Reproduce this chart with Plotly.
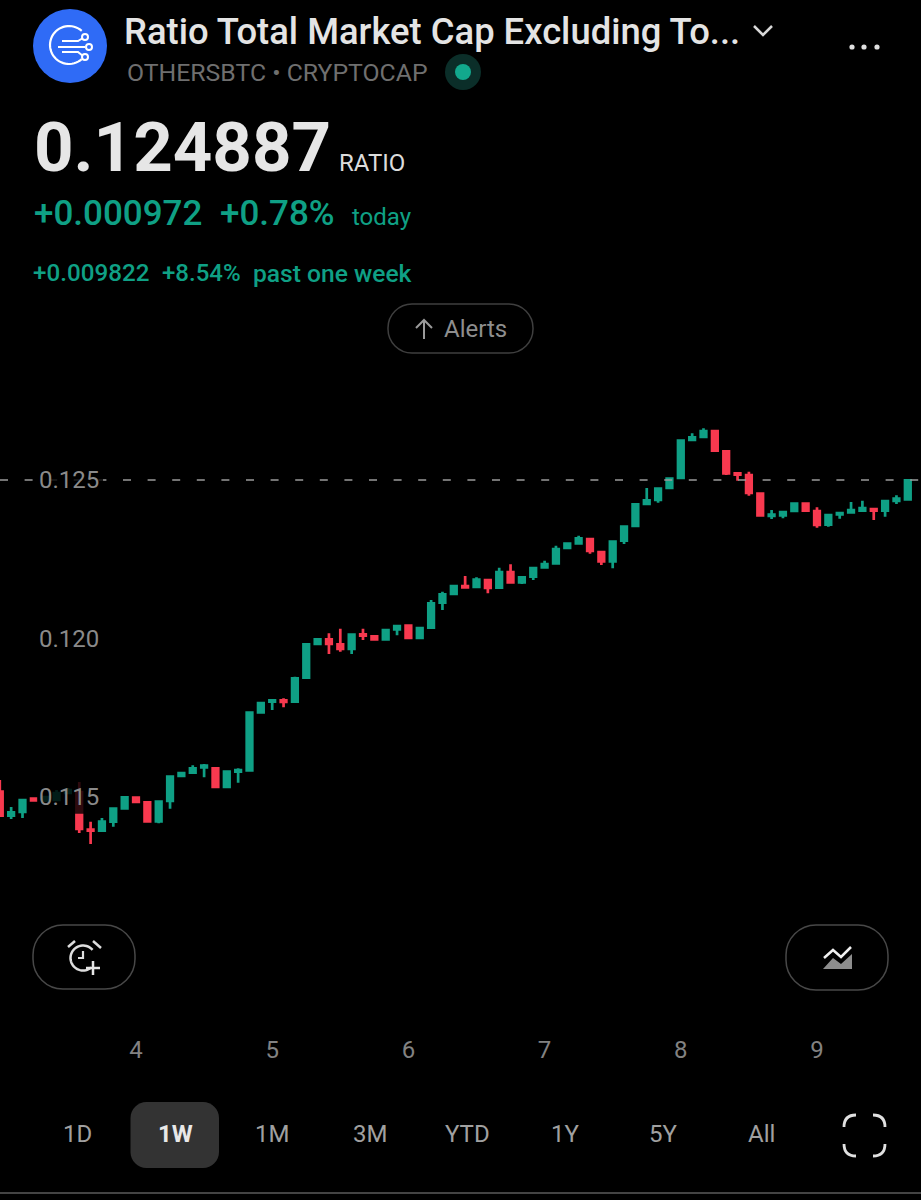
import math
import plotly.graph_objects as go

open_ = [.115167,.114410,.114527,.114953,.114889,.114905,.115126,.115158,.113975,.113937,
 .114221,.114643,.114978,.114833,.114233,.114874,.115662,.115766,.115937,.115905,
 .115315,.115798,.115842,.117672,.118006,.118050,.118006,.118763,.119826,.119975,
 .119817,.119669,.120132,.120069,.119975,.120290,.120404,.120016,.120341,.121129,
 .121404,.121656,.121625,.121845,.121603,.122098,.121773,.121949,.122246,.122372,
 .122855,.123003,.123139,.122729,.122435,.123085,.123549,.124243,.124369,.124748,
 .125063,.126262,.126356,.126546,.125905,.125211,.125158,.124568,.123864,.123886,
 .124022,.124252,.124022,.123590,.123918,.123981,.124032,.124085,.124032,.124338,
 .124391]
high = [.115536,.114684,.114921,.114962,.115031,.115221,.115284,.115473,.114221,.114337,
 .114637,.115000,.114984,.114842,.114861,.115650,.115770,.116000,.116041,.115915,
 .115807,.115905,.117669,.117971,.118082,.118113,.118795,.119826,.119984,.120164,
 .120309,.120129,.120309,.120079,.120278,.120404,.120435,.120341,.121214,.121476,
 .121666,.121972,.121931,.121855,.122233,.122341,.121940,.122233,.122454,.122927,
 .123035,.123243,.123148,.122738,.123076,.123536,.124243,.124748,.124735,.125050,
 .126249,.126473,.126631,.126555,.125915,.125221,.125262,.124577,.124054,.124000,
 .124262,.124262,.124139,.123905,.123968,.124306,.124347,.124095,.124347,.124517,
 .125000]
low = [.114369,.114306,.114337,.114883,.114842,.114874,.115095,.113864,.113517,.113927,
 .114063,.114631,.114833,.114218,.114170,.114631,.115650,.115757,.115621,.115306,
 .115306,.115451,.115833,.117663,.117744,.117830,.117997,.118754,.119801,.119511,
 .119584,.119511,.119953,.119965,.119965,.120101,.120006,.120006,.120331,.120899,
 .121394,.121584,.121615,.121426,.121593,.121763,.121719,.121845,.122237,.122363,
 .122845,.122994,.122675,.122319,.122214,.122981,.123539,.124233,.124284,.124738,
 .125054,.126221,.126347,.125915,.125158,.124978,.124505,.123877,.123770,.123792,
 .124013,.124022,.123495,.123527,.123779,.123959,.123991,.123738,.123842,.124243,
 .124382]
close = [.114410,.114517,.114905,.114889,.115000,.115126,.115221,.113990,.113937,.114221,
 .114631,.114990,.114842,.114233,.114852,.115640,.115757,.115905,.115987,.115315,
 .115798,.115852,.117659,.117965,.118050,.117997,.118744,.119817,.119975,.119826,
 .119669,.120120,.120088,.119975,.120268,.120394,.120016,.120331,.121110,.121394,
 .121656,.121615,.121855,.121593,.122098,.121773,.121931,.122224,.122350,.122823,
 .122991,.123161,.122760,.122435,.123060,.123527,.124233,.124360,.124726,.125041,
 .126240,.126347,.126546,.125924,.125211,.125167,.124590,.123886,.123905,.123991,
 .124252,.124032,.123580,.123896,.123959,.124054,.124117,.124032,.124338,.124410,
 .124991]
y_ticks = [0.115, 0.120, 0.125]
y_labels = ["0.115", "0.120", "0.125"]
x_ticks = [4, 5, 6, 7, 8, 9]
x_labels = ["4", "5", "6", "7", "8", "9"]
last_level = 0.125
ranges = ["1D", "1W", "1M", "3M", "YTD", "1Y", "5Y", "All"]

W, H = 921, 1200
GREEN, RED = "#0fa085", "#f8394f"
FONT = "Roboto"
days = [3 + i / 12 for i in range(len(open_))]
x_range = [3.0015, 3.0015 + W / 136.2]
y_range = [0.102287, 0.140142]


def px(x):
    return x / W


def py(y):
    return 1 - y / H


def pt(x, y):
    return f"{px(x):.5f},{py(y):.5f}"


def poly(points, closed=False):
    s = "M" + " L".join(pt(*p) for p in points)
    return s + (" Z" if closed else "")


def rrect(x0, y0, x1, y1, r):
    k = r * 0.45
    return (f"M{pt(x0 + r, y0)} L{pt(x1 - r, y0)} C{pt(x1 - k, y0)} {pt(x1, y0 + k)} {pt(x1, y0 + r)} "
            f"L{pt(x1, y1 - r)} C{pt(x1, y1 - k)} {pt(x1 - k, y1)} {pt(x1 - r, y1)} "
            f"L{pt(x0 + r, y1)} C{pt(x0 + k, y1)} {pt(x0, y1 - k)} {pt(x0, y1 - r)} "
            f"L{pt(x0, y0 + r)} C{pt(x0, y0 + k)} {pt(x0 + k, y0)} {pt(x0 + r, y0)} Z")


shapes = []


def path(d, color="#dddddd", width=2.5, fill=None):
    shapes.append(dict(type="path", xref="paper", yref="paper", path=d, layer="above",
                       line=dict(color=color, width=width), fillcolor=fill or "rgba(0,0,0,0)"))


def circle(cx, cy, r, fill=None, color=None, width=0):
    shapes.append(dict(type="circle", xref="paper", yref="paper", layer="above",
                       x0=px(cx - r), x1=px(cx + r), y0=py(cy + r), y1=py(cy - r),
                       fillcolor=fill or "rgba(0,0,0,0)",
                       line=dict(color=color or "rgba(0,0,0,0)", width=width)))


def arc(cx, cy, r, a0, a1, n=40):
    return [(cx + r * math.cos(math.radians(a0 + (a1 - a0) * i / n)),
             cy + r * math.sin(math.radians(a0 + (a1 - a0) * i / n))) for i in range(n + 1)]


# logo
circle(70, 46, 37, fill="#2f6bf6")
path(poly(arc(69, 45, 19, -48, -312)), "#ffffff", 2.2)
path(poly([(62, 41), (78, 41), (83, 38)]), "#ffffff", 2)
path(poly([(58, 47), (85, 47)]), "#ffffff", 2)
path(poly([(62, 52), (78, 52), (83, 56)]), "#ffffff", 2)
circle(85, 37, 3, fill="#2f6bf6", color="#ffffff", width=2)
circle(89, 47, 3, fill="#2f6bf6", color="#ffffff", width=2)
circle(85, 57, 3, fill="#2f6bf6", color="#ffffff", width=2)
# header bits
path(poly([(754, 26), (763, 35), (772, 26)]), "#d8d8d8", 2.5)
for cx in (852, 864, 877):
    circle(cx, 47, 2.6, fill="#e0e0e0")
circle(463, 72, 18, fill="#0b2e29")
circle(463, 72, 8, fill="#12a88d")
# alerts pill
path(rrect(388, 304, 533, 353, 24), "#3f3f3f", 1.5)
path(poly([(424, 339), (424, 320)]), "#9a9a9a", 2)
path(poly([(416, 328), (424, 320), (432, 328)]), "#9a9a9a", 2)
# lower buttons
path(rrect(33, 925, 135, 989, 30), "#484848", 1.5)
path(rrect(786, 925, 888, 990, 30), "#484848", 1.5)
path(poly(arc(83, 958, 12.5, 50, 320)), "#dddddd", 2.5)
path(poly([(68, 947), (75, 941)]), "#dddddd", 2.5)
path(poly([(93, 941), (101, 948)]), "#dddddd", 2.5)
path(poly([(83, 951), (83, 958), (78, 958)]), "#dddddd", 2.2)
path(poly([(93, 961), (93, 975)]), "#e6e6e6", 2.5)
path(poly([(86, 968), (100, 968)]), "#e6e6e6", 2.5)
path(poly([(823, 969), (833, 958), (841, 964), (852, 954), (852, 969)], True), "rgba(0,0,0,0)", 0, "#8d8d8d")
path(poly([(824, 958), (833, 950), (841, 957), (851, 947)]), "#f0f0f0", 2.5)
# range selector
path(rrect(130.5, 1102, 219, 1168, 16), "rgba(0,0,0,0)", 0, "#333333")
for a, b, c in [((844, 1127), (844, 1115), (856, 1115)), ((873, 1115), (885, 1115), (885, 1127)),
                ((844, 1144), (844, 1156), (856, 1156)), ((873, 1156), (885, 1156), (885, 1144))]:
    path(f"M{pt(*a)} Q{pt(*b)} {pt(*c)}", "#e0e0e0", 2.8)
path(poly([(0, 1193), (921, 1193)]), "#444444", 2)

notes = []


def text(x, y, s, size, color, weight=400, anchor="left"):
    notes.append(dict(xref="paper", yref="paper", x=px(x), y=py(y), text=s, showarrow=False,
                      xanchor=anchor, yanchor="middle", align=anchor,
                      font=dict(family=FONT, size=size, color=color, weight=weight)))


text(122, 31, "Ratio Total Market Cap Excluding To...", 36.4, "#e4e4e4", 500)
text(125, 72, "OTHERSBTC • CRYPTOCAP", 24.8, "#6f6f6f")
text(32, 147, "0.124887", 69, "#e6e6e6", 700)
text(337, 163, "RATIO", 24, "#dcdcdc")
text(32, 213, "+0.000972", 35, GREEN, 500)
text(218, 213, "+0.78%", 35, GREEN, 500)
text(350, 217, "today", 24, GREEN)
text(31, 273, "+0.009822", 24.2, GREEN, 500)
text(160, 273, "+8.54%", 24, GREEN, 500)
text(251, 273, "past one week", 24.6, GREEN, 500)
text(442, 329, "Alerts", 24, "#8e8e8e")
for label, cx in zip(ranges, [77, 175, 272, 370, 467, 565, 663, 761]):
    active = label == "1W"
    text(cx, 1134, label, 24, "#e8e8e8" if active else "#a0a0a0", 700 if active else 400, "center")

fig = go.Figure()
fig.add_trace(go.Candlestick(
    x=days, open=open_, high=high, low=low, close=close,
    increasing=dict(line=dict(color=GREEN, width=2.7), fillcolor=GREEN),
    decreasing=dict(line=dict(color=RED, width=2.7), fillcolor=RED),
    whiskerwidth=0, hoverinfo="skip", showlegend=False))
fig.add_trace(go.Scatter(
    x=x_range, y=[last_level, last_level], mode="lines", hoverinfo="skip", showlegend=False,
    line=dict(color="#9a9a9a", width=1.6, dash="8px,16.6px")))
# translucent backing behind the price labels, the tick labels sit on top of it
bx, by = [], []
for t in y_ticks:
    bx += [3.273, 3.758, 3.758, 3.273, 3.273, None]
    by += [t - .00053, t - .00053, t + .00053, t + .00053, t - .00053, None]
fig.add_trace(go.Scatter(x=bx, y=by, mode="lines", fill="toself", fillcolor="rgba(0,0,0,0.82)",
                         line=dict(width=0), hoverinfo="skip", showlegend=False))

fig.update_layout(
    width=W, height=H, margin=dict(l=0, r=0, t=0, b=0, pad=0),
    paper_bgcolor="#000000", plot_bgcolor="#000000", showlegend=False,
    shapes=shapes, annotations=notes,
    xaxis=dict(range=x_range, rangeslider=dict(visible=False), showgrid=False, zeroline=False,
               showline=False, tickmode="array", tickvals=x_ticks, ticktext=x_labels,
               anchor="free", position=0.1392, ticks="",
               tickfont=dict(family=FONT, size=24, color="#828282")),
    yaxis=dict(range=y_range, showgrid=False, zeroline=False, showline=False,
               tickmode="array", tickvals=y_ticks, ticktext=y_labels, ticks="",
               ticklabelposition="inside", ticklabelstandoff=36,
               tickfont=dict(family=FONT, size=24, color="#8a8a8a")),
)
fig.write_html("out.html", config=dict(displayModeBar=False),
               post_script="document.body.style.margin='0';document.body.style.background='#000';")
